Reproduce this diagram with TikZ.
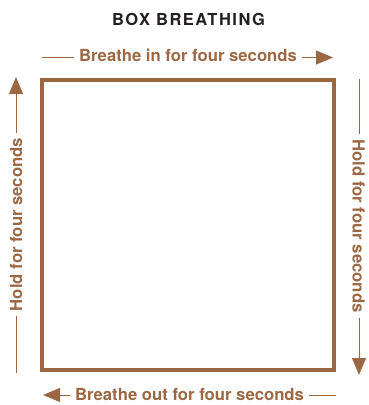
\documentclass[tikz,border=0pt]{standalone}
\usepackage{fontspec}
\setmainfont{TeX Gyre Heros}
\usetikzlibrary{arrows.meta}
\definecolor{boxbrown}{RGB}{156,104,68}
\definecolor{titlegray}{RGB}{35,31,32}
\begin{document}
\begin{tikzpicture}[x=1pt,y=-1pt,
  lbl/.style={font=\fontsize{16.7}{18}\selectfont\bfseries, text=boxbrown, inner xsep=5pt, inner ysep=0pt},
  guide/.style={draw=boxbrown, line width=1pt},
  tip/.style={-{Triangle[length=17pt,width=14pt]}},
  frame/.style={draw=boxbrown, line width=3.5pt, minimum width=292pt, minimum height=290pt, inner sep=0pt}]
\useasboundingbox (0,0) rectangle (368,405);

\node[font=\fontsize{16.5}{18}\selectfont\bfseries\addfontfeature{LetterSpace=9}, text=titlegray, anchor=base, inner sep=0pt] (title) at (188.5,25) {BOX BREATHING};

\node[frame] (box) at (188,225) {};

% top
\coordinate (t1) at (42,57.5);
\coordinate (t2) at (333,57.5);
\node[lbl, anchor=base] (tin) at (188,61) {Breathe in for four seconds};
\draw[guide] (t1) -- (t1 -| tin.west);
\draw[guide, tip] (t1 -| tin.east) -- (t2);

% bottom
\coordinate (b1) at (336,395);
\coordinate (b2) at (43,395);
\node[lbl, anchor=base] (bt) at (189.5,400.7) {Breathe out for four seconds};
\draw[guide] (b1) -- (b1 -| bt.east);
\draw[guide, tip] (b1 -| bt.west) -- (b2);

% left
\coordinate (l1) at (16,373);
\coordinate (l2) at (16,77);
\node[lbl, rotate=90, anchor=base] (lt) at (22,224.5) {Hold for four seconds};
\draw[guide] (l1) -- (l1 |- lt.west);
\draw[guide, tip] (l1 |- lt.east) -- (l2);

% right
\coordinate (r1) at (359,79);
\coordinate (r2) at (359,375);
\node[lbl, rotate=-90, anchor=base] (rt) at (352.5,226) {Hold for four seconds};
\draw[guide] (r1) -- (r1 |- rt.west);
\draw[guide, tip] (r1 |- rt.east) -- (r2);
\end{tikzpicture}
\end{document}
